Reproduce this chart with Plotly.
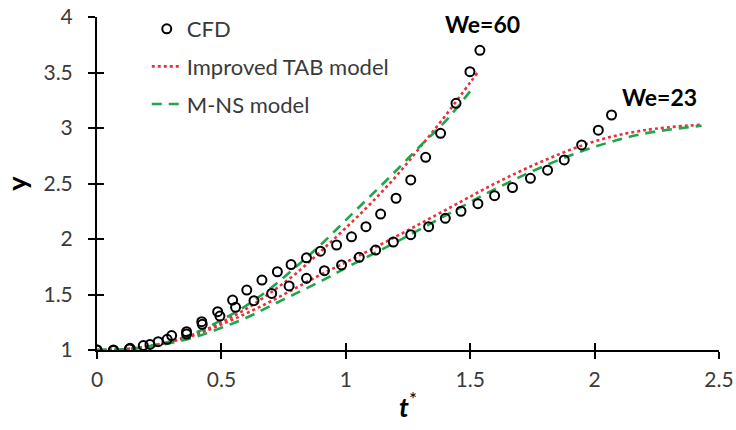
import plotly.graph_objects as go

# ---- data ----
cfd60_t = [0.0, 0.066, 0.13, 0.186, 0.246, 0.30, 0.36, 0.421, 0.485, 0.545, 0.602, 0.663, 0.725,
           0.78, 0.842, 0.898, 0.963, 1.023, 1.081, 1.14, 1.202, 1.261, 1.321, 1.381, 1.443, 1.499, 1.539]
cfd60_y = [1.0, 1.0, 1.01, 1.04, 1.075, 1.13, 1.165, 1.255, 1.345, 1.45, 1.54, 1.63, 1.705,
           1.77, 1.83, 1.89, 1.946, 2.02, 2.111, 2.225, 2.367, 2.532, 2.736, 2.952, 3.222, 3.507, 3.70]

cfd23_t = [0.0, 0.066, 0.133, 0.213, 0.282, 0.36, 0.423, 0.494, 0.557, 0.631, 0.702, 0.772, 0.842,
           0.914, 0.983, 1.054, 1.12, 1.191, 1.261, 1.333, 1.40, 1.463, 1.531, 1.598, 1.670, 1.742,
           1.811, 1.878, 1.948, 2.015, 2.068]
cfd23_y = [1.0, 0.995, 1.015, 1.05, 1.096, 1.144, 1.231, 1.306, 1.385, 1.444, 1.51, 1.577, 1.646,
           1.715, 1.766, 1.835, 1.90, 1.973, 2.039, 2.111, 2.186, 2.25, 2.318, 2.39, 2.464, 2.547,
           2.62, 2.712, 2.847, 2.98, 3.117]

tab60_t = [0, 0.1, 0.2, 0.3, 0.4, 0.5, 0.6, 0.7, 0.8, 0.9, 1.0, 1.1, 1.2, 1.3, 1.4, 1.5, 1.53]
tab60_y = [1.0, 1.005, 1.03, 1.08, 1.15, 1.25, 1.37, 1.52, 1.69, 1.89, 2.10, 2.32, 2.56, 2.83, 3.11, 3.41, 3.50]

mns60_t = [0, 0.1, 0.2, 0.3, 0.4, 0.5, 0.6, 0.7, 0.8, 0.9, 1.0, 1.1, 1.2, 1.3, 1.4, 1.51]
mns60_y = [1.0, 1.005, 1.03, 1.08, 1.16, 1.27, 1.40, 1.56, 1.75, 1.95, 2.17, 2.39, 2.61, 2.84, 3.06, 3.36]

tab23_t = [0, 0.1, 0.2, 0.3, 0.4, 0.5, 0.6, 0.7, 0.8, 0.9, 1.0, 1.2, 1.4, 1.6, 1.8, 2.0, 2.2, 2.43]
tab23_y = [1.0, 1.005, 1.03, 1.075, 1.14, 1.23, 1.33, 1.44, 1.56, 1.68, 1.79, 2.02, 2.26, 2.50, 2.71, 2.88, 2.98, 3.03]

mns23_t = [0, 0.1, 0.2, 0.3, 0.4, 0.5, 0.6, 0.7, 0.8, 0.9, 1.0, 1.2, 1.4, 1.6, 1.8, 2.0, 2.2, 2.43]
mns23_y = [1.0, 1.005, 1.025, 1.065, 1.12, 1.20, 1.29, 1.40, 1.51, 1.62, 1.74, 1.97, 2.21, 2.45, 2.66, 2.83, 2.95, 3.02]

x_ticks = [0, 0.5, 1, 1.5, 2, 2.5]
x_tick_labels = ["0", "0.5", "1", "1.5", "2", "2.5"]
y_ticks = [1, 1.5, 2, 2.5, 3, 3.5, 4]
y_tick_labels = ["1", "1.5", "2", "2.5", "3", "3.5", "4"]

labels = [("We=60", 1.55, 3.94), ("We=23", 2.26, 3.28)]

# ---- styles ----
FONT = "Lato"
RED = "#e8303c"
GREEN = "#1fa64a"
TXT = "#3a3a3a"

fig = go.Figure()

fig.add_trace(go.Scatter(x=tab60_t, y=tab60_y, mode="lines", name="Improved TAB model",
                         line=dict(color=RED, width=2.6, dash="dot", shape="spline"),
                         legendgroup="b", legendrank=2))
fig.add_trace(go.Scatter(x=tab23_t, y=tab23_y, mode="lines", showlegend=False,
                         line=dict(color=RED, width=2.6, dash="dot", shape="spline"), legendgroup="b"))
fig.add_trace(go.Scatter(x=mns60_t, y=mns60_y, mode="lines", name="M-NS model",
                         line=dict(color=GREEN, width=2.6, dash="10px,7px", shape="spline"),
                         legendgroup="c", legendrank=3))
fig.add_trace(go.Scatter(x=mns23_t, y=mns23_y, mode="lines", showlegend=False,
                         line=dict(color=GREEN, width=2.6, dash="10px,7px", shape="spline"), legendgroup="c"))
fig.add_trace(go.Scatter(x=cfd60_t, y=cfd60_y, mode="markers", name="CFD",
                         marker=dict(symbol="circle-open", size=9, color="black", line=dict(width=2)),
                         legendgroup="a", legendrank=1))
fig.add_trace(go.Scatter(x=cfd23_t, y=cfd23_y, mode="markers", showlegend=False,
                         marker=dict(symbol="circle-open", size=9, color="black", line=dict(width=2)),
                         legendgroup="a"))

# overlay axes giving the inner half of the crossing tick marks
fig.add_trace(go.Scatter(x=[None], y=[None], xaxis="x2", yaxis="y2", showlegend=False, hoverinfo="skip"))

for text, xx, yy in labels:
    fig.add_annotation(x=xx, y=yy, text="<b>" + text + "</b>", showarrow=False,
                       font=dict(family=FONT, size=23, color="black"))

fig.update_layout(
    width=736, height=430,
    margin=dict(l=97, r=17, t=17, b=80, autoexpand=False),
    paper_bgcolor="white", plot_bgcolor="white",
    font=dict(family=FONT, size=21, color=TXT),
    showlegend=True,
    legend=dict(x=0.080, y=1.027, xanchor="left", yanchor="top", bgcolor="rgba(0,0,0,0)",
                font=dict(family=FONT, size=22, color=TXT), traceorder="grouped",
                tracegroupgap=6),
    xaxis=dict(range=[0, 2.5], tickvals=x_ticks, ticktext=x_tick_labels, showgrid=False,
               zeroline=False, showline=True, linecolor="black", linewidth=2,
               ticks="outside", ticklen=7, tickwidth=2, tickcolor="black", automargin=False,
               ticklabelstandoff=3, ticklabeloverflow="allow",
               tickfont=dict(family=FONT, size=21, color=TXT),
               title=dict(text="<b><i>t</i></b><sup>*</sup>", font=dict(family=FONT, size=27, color="black"),
                          standoff=8)),
    yaxis=dict(range=[1, 4], tickvals=y_ticks, ticktext=y_tick_labels, showgrid=False,
               zeroline=False, showline=True, linecolor="black", linewidth=2,
               ticks="outside", ticklen=7, tickwidth=2, tickcolor="black", automargin=False,
               ticklabelstandoff=11, ticklabeloverflow="allow",
               tickfont=dict(family=FONT, size=21, color=TXT),
               title=dict(text="<b>y</b>", font=dict(family=FONT, size=27, color="black"),
                          standoff=19)),
    xaxis2=dict(range=[0, 2.5], tickvals=x_ticks, overlaying="x", anchor="y2", showticklabels=False,
                showgrid=False, zeroline=False, ticks="inside", ticklen=7, tickwidth=2,
                tickcolor="black", side="bottom"),
    yaxis2=dict(range=[1, 4], tickvals=y_ticks, overlaying="y", anchor="x2", showticklabels=False,
                showgrid=False, zeroline=False, ticks="inside", ticklen=7, tickwidth=2,
                tickcolor="black", side="left"),
)

# remove the browser's default 8px page margin so the 736x430 figure fills the window
fig.write_html("out.html", config={"displayModeBar": False},
               post_script="document.body.style.margin='0px';")
